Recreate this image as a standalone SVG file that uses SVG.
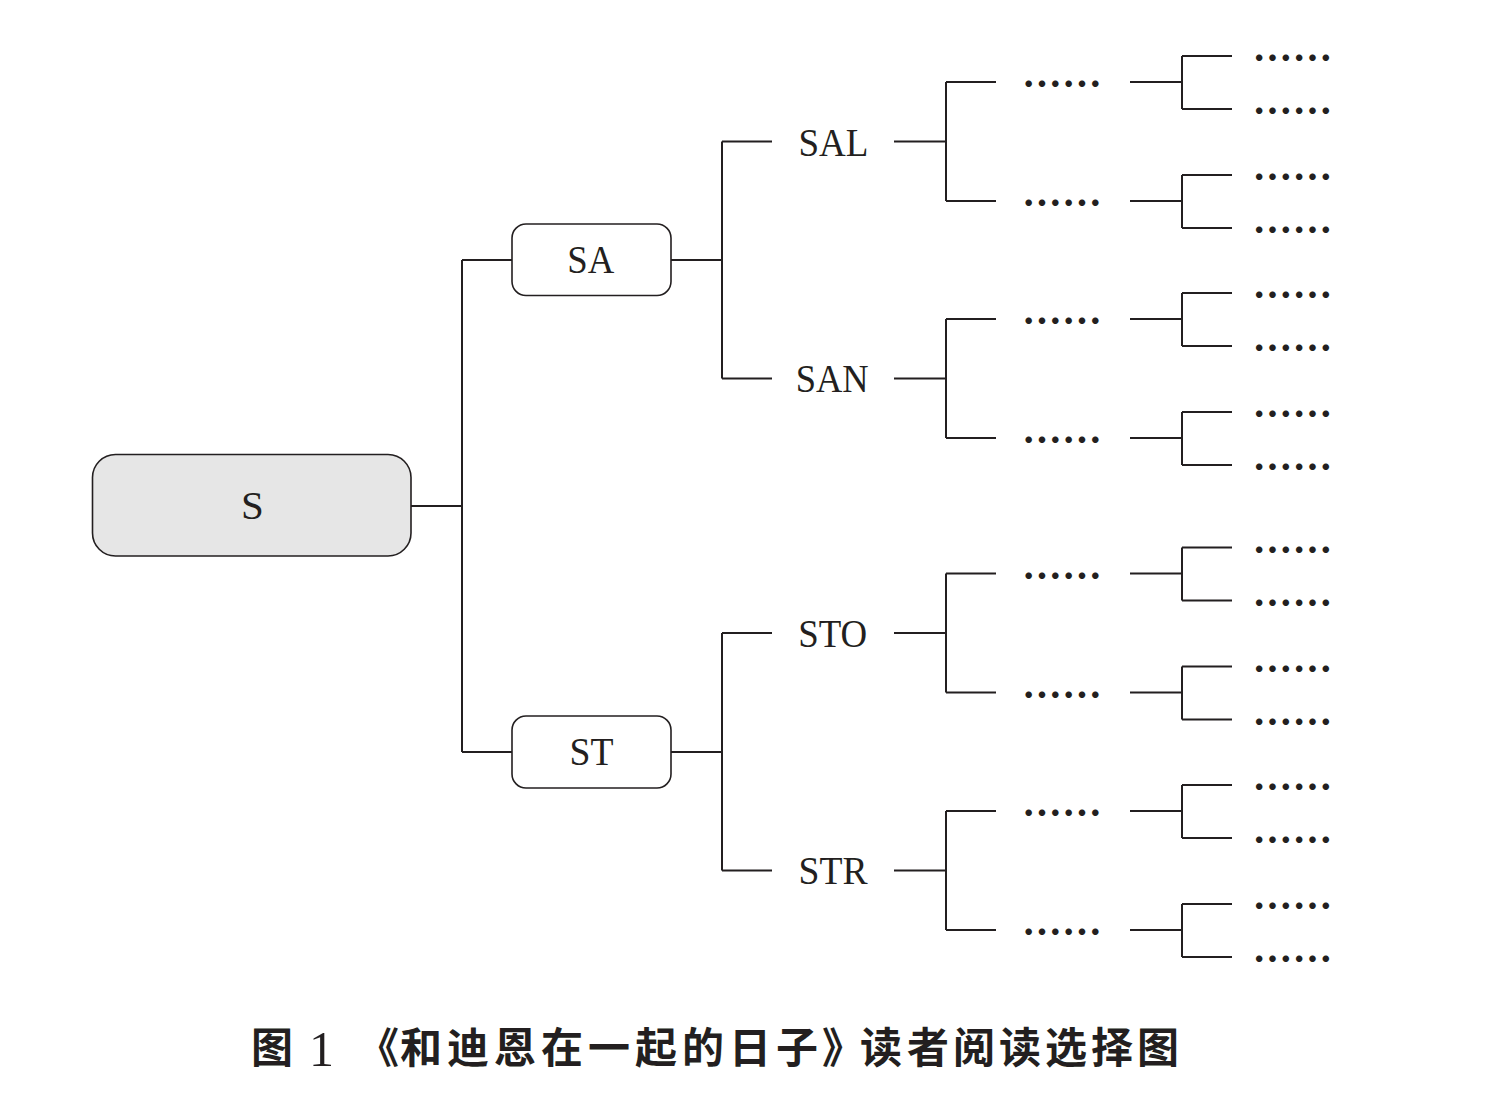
<svg xmlns="http://www.w3.org/2000/svg" width="1491" height="1110" viewBox="0 0 1491 1110">
<style>
.bg{fill:#ffffff}
.box{stroke:#231f20;stroke-width:1.6;fill:#ffffff}
.root{fill:#e6e6e6}
.conn{fill:none;stroke:#231f20;stroke-width:2}
.lbl{font-family:"Liberation Serif","Times New Roman",serif;font-size:41px;fill:#231f20;text-anchor:middle}
.dots{font-family:"Noto Sans CJK SC","Noto Sans",sans-serif;font-size:40px;font-weight:bold;fill:#231f20}
.cap{font-family:"Noto Sans CJK SC",sans-serif;font-size:42px;font-weight:bold;fill:#231f20}
.capn{font-family:"Liberation Serif",serif;font-size:50px;fill:#231f20}
</style>
<rect class="bg" x="0" y="0" width="1491" height="1110"/>
<g id="connectors">
<path class="conn" d="M411 506H462M462 260V752M462 260H512M462 752H512"/>
<path class="conn" d="M671 260H722M722 141.5V378.5M722 141.5H772M722 378.5H772"/>
<path class="conn" d="M671 752H722M722 633V870.5M722 633H772M722 870.5H772"/>
<path class="conn" d="M894 141.5H946M946 82V201M946 82H996M946 201H996"/>
<path class="conn" d="M894 378.5H946M946 319V438M946 319H996M946 438H996"/>
<path class="conn" d="M894 633H946M946 573.5V692.5M946 573.5H996M946 692.5H996"/>
<path class="conn" d="M894 870.5H946M946 811V930M946 811H996M946 930H996"/>
<path class="conn" d="M1130 82H1182M1182 56V109M1182 56H1232M1182 109H1232"/>
<path class="conn" d="M1130 201H1182M1182 175V228M1182 175H1232M1182 228H1232"/>
<path class="conn" d="M1130 319H1182M1182 293V346M1182 293H1232M1182 346H1232"/>
<path class="conn" d="M1130 438H1182M1182 412V465M1182 412H1232M1182 465H1232"/>
<path class="conn" d="M1130 573.5H1182M1182 547.5V600.5M1182 547.5H1232M1182 600.5H1232"/>
<path class="conn" d="M1130 692.5H1182M1182 666.5V719.5M1182 666.5H1232M1182 719.5H1232"/>
<path class="conn" d="M1130 811H1182M1182 785V838M1182 785H1232M1182 838H1232"/>
<path class="conn" d="M1130 930H1182M1182 904V957M1182 904H1232M1182 957H1232"/>
</g>
<g id="node-S"><rect class="box root" x="92.5" y="454.5" width="318.5" height="101.5" rx="23"/><text class="lbl" x="252.3" y="519">S</text></g>
<g id="node-SA"><rect class="box" x="512" y="224" width="159" height="71.5" rx="14"/><text class="lbl" x="590.8" y="272.7" textLength="47" lengthAdjust="spacingAndGlyphs">SA</text></g>
<g id="node-ST"><rect class="box" x="512" y="716" width="159" height="72" rx="14"/><text class="lbl" x="591.5" y="765" textLength="44" lengthAdjust="spacingAndGlyphs">ST</text></g>
<g id="node-SAL"><text class="lbl" x="833.5" y="155.7" textLength="70" lengthAdjust="spacingAndGlyphs">SAL</text></g>
<g id="node-SAN"><text class="lbl" x="832.2" y="391.7" textLength="73" lengthAdjust="spacingAndGlyphs">SAN</text></g>
<g id="node-STO"><text class="lbl" x="832.7" y="647.3" textLength="69" lengthAdjust="spacingAndGlyphs">STO</text></g>
<g id="node-STR"><text class="lbl" x="833" y="884.3" textLength="69" lengthAdjust="spacingAndGlyphs">STR</text></g>
<g id="node-L3-1"><text class="dots" x="1022" y="99">……</text></g>
<g id="node-L3-2"><text class="dots" x="1022" y="218">……</text></g>
<g id="node-L3-3"><text class="dots" x="1022" y="336">……</text></g>
<g id="node-L3-4"><text class="dots" x="1022" y="455">……</text></g>
<g id="node-L3-5"><text class="dots" x="1022" y="590.5">……</text></g>
<g id="node-L3-6"><text class="dots" x="1022" y="709.5">……</text></g>
<g id="node-L3-7"><text class="dots" x="1022" y="828">……</text></g>
<g id="node-L3-8"><text class="dots" x="1022" y="947">……</text></g>
<g id="node-L4-1"><text class="dots" x="1252.6" y="73">……</text></g>
<g id="node-L4-2"><text class="dots" x="1252.6" y="126">……</text></g>
<g id="node-L4-3"><text class="dots" x="1252.6" y="192">……</text></g>
<g id="node-L4-4"><text class="dots" x="1252.6" y="245">……</text></g>
<g id="node-L4-5"><text class="dots" x="1252.6" y="310">……</text></g>
<g id="node-L4-6"><text class="dots" x="1252.6" y="363">……</text></g>
<g id="node-L4-7"><text class="dots" x="1252.6" y="429">……</text></g>
<g id="node-L4-8"><text class="dots" x="1252.6" y="482">……</text></g>
<g id="node-L4-9"><text class="dots" x="1252.6" y="564.5">……</text></g>
<g id="node-L4-10"><text class="dots" x="1252.6" y="617.5">……</text></g>
<g id="node-L4-11"><text class="dots" x="1252.6" y="683.5">……</text></g>
<g id="node-L4-12"><text class="dots" x="1252.6" y="736.5">……</text></g>
<g id="node-L4-13"><text class="dots" x="1252.6" y="802">……</text></g>
<g id="node-L4-14"><text class="dots" x="1252.6" y="855">……</text></g>
<g id="node-L4-15"><text class="dots" x="1252.6" y="921">……</text></g>
<g id="node-L4-16"><text class="dots" x="1252.6" y="974">……</text></g>
<g id="caption">
<text class="cap" x="251" y="1063">图</text>
<text class="capn" x="309" y="1066">1</text>
<text class="cap" x="357 400 447 494 541 588 635 682 729 776 822 860 907 953 999 1045 1091 1137" y="1063">《和迪恩在一起的日子》读者阅读选择图</text>
</g>
</svg>
